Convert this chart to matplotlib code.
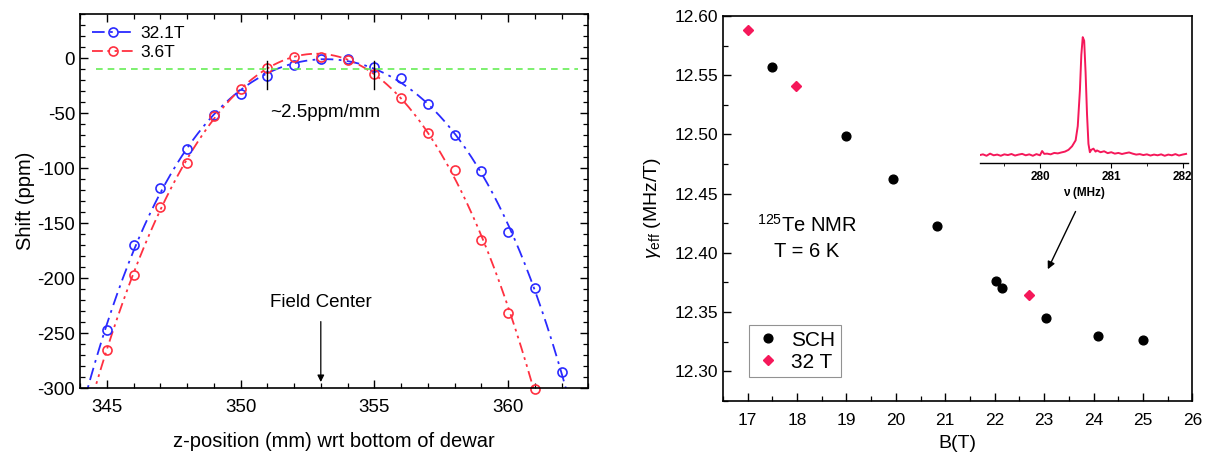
import numpy as np
import matplotlib
matplotlib.use("Agg")
import matplotlib.pyplot as plt
from matplotlib.ticker import MultipleLocator, FormatStrFormatter

plt.rcParams['font.family'] = ['Liberation Sans', 'DejaVu Sans']
plt.rcParams['mathtext.fontset'] = 'custom'
plt.rcParams['mathtext.rm'] = 'Liberation Sans'
plt.rcParams['mathtext.it'] = 'Liberation Sans:italic'
plt.rcParams['axes.unicode_minus'] = False

# ---- field profile along the dewar axis ----
z_high = [345, 346, 347, 348, 349, 350, 351, 352, 353, 354, 355, 356, 357, 358, 359, 360, 361, 362]
shift_high = [-247, -170, -118, -83, -52, -33, -16, -6, -1, -1, -8, -18, -42, -70, -103, -158, -209, -285]
z_low = [345, 346, 347, 348, 349, 350, 351, 352, 353, 354, 355, 356, 357, 358, 359, 360, 361]
shift_low = [-265, -197, -135, -95, -53, -28, -9, 1, 1, -2, -14, -36, -68, -102, -165, -232, -301]
label_high = "32.1T"
label_low = "3.6T"
tolerance_level = -10
gradient_marks = [351, 355]
field_center = 353

# ---- effective gyromagnetic ratio vs field ----
b_sch = [17.5, 19.0, 19.94, 20.83, 22.02, 22.14, 23.03, 24.1, 25.0]
gamma_sch = [12.557, 12.499, 12.462, 12.423, 12.376, 12.370, 12.345, 12.330, 12.326]
b_32t = [17.0, 17.97, 22.69]
gamma_32t = [12.588, 12.541, 12.364]

# ---- 125Te spectrum (arbitrary units) ----
nu = [279.15, 279.2, 279.25, 279.3, 279.35, 279.4, 279.45, 279.5, 279.55, 279.6,
      279.65, 279.7, 279.75, 279.8, 279.85, 279.9, 279.95, 280.0, 280.03, 280.06,
      280.1, 280.15, 280.2, 280.25, 280.3, 280.35, 280.4, 280.45, 280.5, 280.53,
      280.56, 280.58, 280.6, 280.62, 280.64, 280.66, 280.68, 280.7, 280.72, 280.75,
      280.78, 280.8, 280.85, 280.9, 280.95, 281.0, 281.05, 281.1, 281.15, 281.2,
      281.25, 281.3, 281.35, 281.4, 281.45, 281.5, 281.55, 281.6, 281.65, 281.7,
      281.75, 281.8, 281.85, 281.9, 281.95, 282.0, 282.05]
intensity = [0.005, 0.012, 0.0, 0.018, 0.004, 0.01, 0.0, 0.012, 0.006, 0.015,
             0.002, 0.01, 0.016, 0.004, 0.012, 0.0, 0.014, 0.004, 0.04, 0.016,
             0.018, 0.012, 0.024, 0.02, 0.028, 0.035, 0.05, 0.08, 0.13, 0.25,
             0.55, 0.85, 1.0, 0.97, 0.7, 0.35, 0.1, 0.03, 0.05, 0.06,
             0.035, 0.045, 0.03, 0.038, 0.022, 0.03, 0.018, 0.024, 0.015, 0.022,
             0.028, 0.018, 0.01, 0.014, 0.006, 0.012, 0.002, 0.01, 0.004, 0.012,
             0.0, 0.01, 0.004, 0.014, 0.002, 0.01, 0.016]

blue = '#2a2aff'
red = '#ff3040'
pink = '#f5185a'

fig = plt.figure(figsize=(12.13, 4.55), dpi=100)

# ================= left panel =================
ax1 = fig.add_axes([0.066, 0.147, 0.419, 0.822])
zz = np.linspace(343.5, 363.5, 400)
fit_high = np.polyval(np.polyfit(z_high, shift_high, 4), zz)
fit_low = np.polyval(np.polyfit(z_low, shift_low, 4), zz)
dashdot = (0, (7, 3, 1.5, 3))
dashdotdot = (0, (6, 2.5, 1.5, 2.5, 1.5, 2.5))
ax1.plot(zz, fit_high, color=blue, lw=1.3, ls=dashdot)
ax1.plot(zz, fit_low, color=red, lw=1.3, ls=dashdotdot)
ax1.plot(z_high, shift_high, 'o', mfc='none', mec=blue, ms=6.5, mew=1.2)
ax1.plot(z_low, shift_low, 'o', mfc='none', mec=red, ms=6.5, mew=1.2, clip_on=False)
h1, = ax1.plot([], [], color=blue, lw=1.3, ls=dashdot, marker='o', mfc='none', mec=blue, ms=6.5, mew=1.2)
h2, = ax1.plot([], [], color=red, lw=1.3, ls=dashdotdot, marker='o', mfc='none', mec=red, ms=6.5, mew=1.2)
ax1.plot([344.6, 362.6], [tolerance_level, tolerance_level], color='#66ee55', lw=1.2, ls=(0, (4, 3)))
for zm in gradient_marks:
    ax1.plot([zm, zm], [-3, -28], color='black', lw=1.0)
ax1.text(351.1, -49, "~2.5ppm/mm", fontsize=13.5, va='center', ha='left')
ax1.annotate("", xy=(field_center, -297), xytext=(field_center, -237),
             arrowprops=dict(arrowstyle='-|>', color='black', lw=0.9, mutation_scale=10))
ax1.text(field_center, -222, "Field Center", fontsize=13.5, ha='center', va='center')
ax1.legend([h1, h2], [label_high, label_low], loc='upper left', frameon=False,
           fontsize=12.5, handlelength=2.4, handletextpad=0.4, borderaxespad=0.3,
           labelspacing=0.2, bbox_to_anchor=(0.0, 1.0))
ax1.set_xlim(344, 363)
ax1.set_ylim(-300, 40)
ax1.xaxis.set_major_locator(MultipleLocator(5))
ax1.xaxis.set_minor_locator(MultipleLocator(1))
ax1.yaxis.set_major_locator(MultipleLocator(50))
ax1.yaxis.set_minor_locator(MultipleLocator(10))
ax1.tick_params(which='both', direction='in', top=True, right=True, labelsize=13.5)
ax1.tick_params(which='major', length=6, width=1.0)
ax1.tick_params(which='minor', length=3.5, width=0.9)
ax1.tick_params(axis='x', pad=8)
ax1.set_xlabel("z-position (mm) wrt bottom of dewar", fontsize=14.5, labelpad=11)
ax1.set_ylabel("Shift (ppm)", fontsize=14.5, labelpad=2)
for s in ax1.spines.values():
    s.set_linewidth(1.2)

# ================= right panel =================
ax2 = fig.add_axes([0.596, 0.119, 0.387, 0.846])
ax2.plot(b_sch, gamma_sch, 'o', color='black', ms=6.3, label='SCH', ls='none')
ax2.plot(b_32t, gamma_32t, 'D', color=pink, ms=5.3, label='32 T', ls='none')
ax2.set_xlim(16.5, 26)
ax2.set_ylim(12.275, 12.60)
ax2.xaxis.set_major_locator(MultipleLocator(1))
ax2.xaxis.set_minor_locator(MultipleLocator(0.5))
ax2.yaxis.set_major_locator(MultipleLocator(0.05))
ax2.yaxis.set_minor_locator(MultipleLocator(0.025))
ax2.yaxis.set_major_formatter(FormatStrFormatter('%.2f'))
ax2.tick_params(which='both', direction='in', labelsize=12.5)
ax2.tick_params(which='major', length=6, width=1.0)
ax2.tick_params(which='minor', length=3.5, width=0.9)
ax2.tick_params(axis='x', pad=9)
ax2.set_xlabel("B(T)", fontsize=14, labelpad=5)
ax2.set_ylabel(r"$\gamma_{\mathrm{eff}}$ (MHz/T)", fontsize=14, labelpad=8)
for s in ax2.spines.values():
    s.set_linewidth(1.2)
ax2.text(18.2, 12.424, r"$^{125}$Te NMR", fontsize=14.5, ha='center', va='center')
ax2.text(18.2, 12.401, "T = 6 K", fontsize=14.5, ha='center', va='center')
ax2.annotate("", xy=(23.05, 12.384), xytext=(23.66, 12.437),
             arrowprops=dict(arrowstyle='-|>', color='black', lw=1.0, mutation_scale=11))
leg = ax2.legend(loc='lower left', bbox_to_anchor=(0.055, 0.062), fontsize=15,
                 frameon=True, fancybox=False, edgecolor='#777777',
                 handletextpad=0.5, borderpad=0.25, labelspacing=0.15, handlelength=1.3,
                 borderaxespad=0.0)
leg.get_frame().set_linewidth(0.8)

# ================= spectrum inset =================
ax3 = fig.add_axes([0.808, 0.642, 0.171, 0.292])
ax3.plot(nu, intensity, color=pink, lw=1.4)
ax3.set_xlim(279.16, 282.07)
ax3.set_ylim(-0.06, 1.06)
ax3.patch.set_alpha(0)
for side in ('top', 'right', 'left'):
    ax3.spines[side].set_visible(False)
ax3.spines['bottom'].set_linewidth(1.0)
ax3.set_yticks([])
ax3.xaxis.set_major_locator(MultipleLocator(1))
ax3.xaxis.set_minor_locator(MultipleLocator(0.5))
ax3.tick_params(which='both', direction='out', labelsize=8.5, pad=2)
ax3.tick_params(which='major', length=3.5)
ax3.tick_params(which='minor', length=2)
for lbl in ax3.get_xticklabels():
    lbl.set_fontweight('bold')
ax3.set_xlabel("ν (MHz)", fontsize=8.5, fontweight='bold', labelpad=3)

fig.savefig("out.png", dpi=100)
